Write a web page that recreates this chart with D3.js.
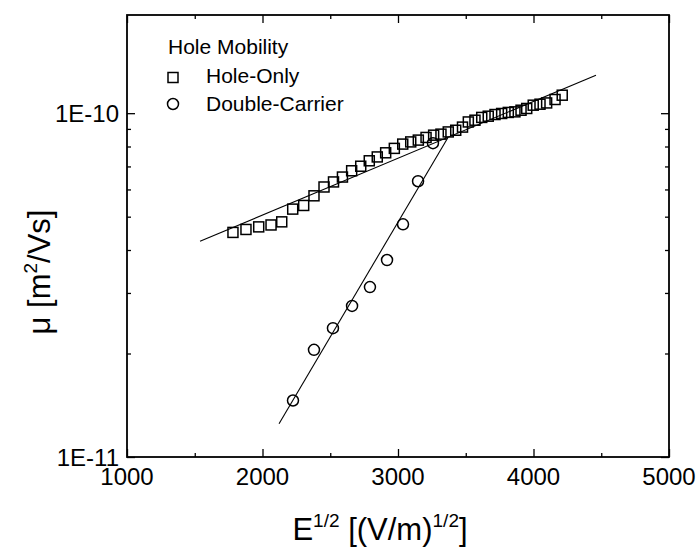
<!DOCTYPE html>
<html>
<head>
<meta charset="utf-8">
<script src="https://cdn.jsdelivr.net/npm/d3@7/dist/d3.min.js"></script>
<style>
  body { margin: 0; background: #fff; }
  text { font-family: "Liberation Sans", Arial, sans-serif; fill: #000; }
</style>
</head>
<body>
<svg id="chart" width="699" height="549"></svg>
<script>
var holeOnlyE = [1782, 1878, 1972, 2063, 2142, 2223, 2304, 2380, 2454, 2524, 2590, 2658, 2725, 2788,
    2847, 2909, 2973, 3035, 3094, 3150, 3207, 3263, 3317, 3371, 3426, 3476, 3519, 3568, 3618, 3666,
    3716, 3765, 3814, 3863, 3908, 3950, 3998, 4048, 4097, 4159, 4212];
var holeOnlyMu = [4.50e-11, 4.59e-11, 4.67e-11, 4.73e-11, 4.83e-11, 5.26e-11, 5.39e-11, 5.75e-11,
    6.10e-11, 6.31e-11, 6.52e-11, 6.80e-11, 7.01e-11, 7.27e-11, 7.46e-11, 7.67e-11, 7.90e-11, 8.13e-11,
    8.25e-11, 8.35e-11, 8.50e-11, 8.63e-11, 8.69e-11, 8.82e-11, 8.92e-11, 9.11e-11, 9.43e-11, 9.54e-11,
    9.72e-11, 9.80e-11, 9.91e-11, 9.98e-11, 1.005e-10, 1.009e-10, 1.020e-10, 1.032e-10, 1.055e-10,
    1.062e-10, 1.071e-10, 1.096e-10, 1.128e-10];

var doubleE = [2225, 2380, 2520, 2661, 2793, 2919, 3037, 3148, 3258];
var doubleMu = [1.46e-11, 2.05e-11, 2.37e-11, 2.75e-11, 3.12e-11, 3.74e-11, 4.75e-11, 6.34e-11, 8.18e-11];

var fitHoleE = [1539, 4461];
var fitHoleMu = [4.24e-11, 1.29e-10];
var fitDoubleE = [2122, 3369];
var fitDoubleMu = [1.25e-11, 8.5e-11];

var xTicks = [1000, 2000, 3000, 4000, 5000];
var xMinor = [1500, 2500, 3500, 4500];
var yTicks = [1e-11, 1e-10];
var yTickLabels = ["1E-11", "1E-10"];
var yMinor = [2e-11, 3e-11, 4e-11, 5e-11, 6e-11, 7e-11, 8e-11, 9e-11];

var svg = d3.select("#chart");
var pL = 127, pR = 669, pT = 15, pB = 457;

var x = d3.scaleLinear().domain([1000, 5000]).range([pL, pR]);
var y = d3.scaleLog().domain([1e-11, 1.93e-10]).range([pB, pT]);

function ticks(axis, vals, len) {
    return axis.tickValues(vals).tickSize(len).tickSizeOuter(0).tickFormat("");
}

// ticks point inward on all four sides
svg.append("g").attr("transform", "translate(0," + pB + ")")
    .call(ticks(d3.axisTop(x), xTicks, 8));
svg.append("g").attr("transform", "translate(0," + pB + ")")
    .call(ticks(d3.axisTop(x), xMinor, 4));
svg.append("g").attr("transform", "translate(0," + pT + ")")
    .call(ticks(d3.axisBottom(x), xTicks, 8));
svg.append("g").attr("transform", "translate(0," + pT + ")")
    .call(ticks(d3.axisBottom(x), xMinor, 4));
svg.append("g").attr("transform", "translate(" + pL + ",0)")
    .call(ticks(d3.axisRight(y), yTicks, 8));
svg.append("g").attr("transform", "translate(" + pL + ",0)")
    .call(ticks(d3.axisRight(y), yMinor, 4));
svg.append("g").attr("transform", "translate(" + pR + ",0)")
    .call(ticks(d3.axisLeft(y), yTicks, 8));
svg.append("g").attr("transform", "translate(" + pR + ",0)")
    .call(ticks(d3.axisLeft(y), yMinor, 4));

svg.selectAll(".domain").remove();
svg.selectAll(".tick line").attr("stroke", "#000").attr("stroke-width", 1.3);

svg.append("rect")
    .attr("x", pL).attr("y", pT)
    .attr("width", pR - pL).attr("height", pB - pT)
    .attr("fill", "none").attr("stroke", "#000").attr("stroke-width", 1.8);

svg.selectAll("text.xt")
    .data(xTicks)
    .enter()
    .append("text")
    .attr("class", "xt")
    .attr("x", function (d) { return x(d); })
    .attr("y", pB + 28)
    .attr("text-anchor", "middle")
    .attr("font-size", 24)
    .text(function (d) { return d; });

svg.selectAll("text.yt")
    .data(yTicks)
    .enter()
    .append("text")
    .attr("class", "yt")
    .attr("x", pL - 8)
    .attr("y", function (d) { return y(d); })
    .attr("dy", "0.36em")
    .attr("text-anchor", "end")
    .attr("font-size", 24)
    .text(function (d, i) { return yTickLabels[i]; });

var xl = svg.append("text")
    .attr("x", 380)
    .attr("y", 540)
    .attr("text-anchor", "middle")
    .attr("font-size", 31);
xl.append("tspan").text("E");
xl.append("tspan").attr("font-size", 19).attr("dy", -13).text("1/2");
xl.append("tspan").attr("dy", 13).text(" [(V/m)");
xl.append("tspan").attr("font-size", 19).attr("dy", -13).text("1/2");
xl.append("tspan").attr("dy", 13).text("]");

var yl = svg.append("text")
    .attr("transform", "translate(50,272) rotate(-90)")
    .attr("text-anchor", "middle")
    .attr("font-size", 31);
yl.append("tspan").text("\u03bc [m");
yl.append("tspan").attr("font-size", 19).attr("dy", -13).text("2");
yl.append("tspan").attr("dy", 13).text("/Vs]");

var line = d3.line()
    .x(function (d) { return x(d[0]); })
    .y(function (d) { return y(d[1]); });

svg.append("path")
    .attr("d", line(d3.zip(fitHoleE, fitHoleMu)))
    .attr("fill", "none").attr("stroke", "#000").attr("stroke-width", 1.1);
svg.append("path")
    .attr("d", line(d3.zip(fitDoubleE, fitDoubleMu)))
    .attr("fill", "none").attr("stroke", "#000").attr("stroke-width", 1.1);

var sq = 10;
svg.selectAll("rect.hole")
    .data(d3.zip(holeOnlyE, holeOnlyMu))
    .enter()
    .append("rect")
    .attr("class", "hole")
    .attr("x", function (d) { return x(d[0]) - sq / 2; })
    .attr("y", function (d) { return y(d[1]) - sq / 2; })
    .attr("width", sq).attr("height", sq)
    .attr("fill", "none")
    .attr("stroke", "#000").attr("stroke-width", 1.5);

svg.selectAll("circle.dbl")
    .data(d3.zip(doubleE, doubleMu))
    .enter()
    .append("circle")
    .attr("class", "dbl")
    .attr("cx", function (d) { return x(d[0]); })
    .attr("cy", function (d) { return y(d[1]); })
    .attr("r", 5.5)
    .attr("fill", "none")
    .attr("stroke", "#000").attr("stroke-width", 1.5);

var lg = svg.append("g");
lg.append("text").attr("x", 168).attr("y", 54).attr("font-size", 21).text("Hole Mobility");
lg.append("rect").attr("x", 168).attr("y", 72.5).attr("width", 10).attr("height", 10)
    .attr("fill", "none").attr("stroke", "#000").attr("stroke-width", 1.5);
lg.append("text").attr("x", 206).attr("y", 83).attr("font-size", 21).text("Hole-Only");
lg.append("circle").attr("cx", 173).attr("cy", 104).attr("r", 5.5)
    .attr("fill", "none").attr("stroke", "#000").attr("stroke-width", 1.5);
lg.append("text").attr("x", 206).attr("y", 111).attr("font-size", 21).text("Double-Carrier");
</script>
</body>
</html>
